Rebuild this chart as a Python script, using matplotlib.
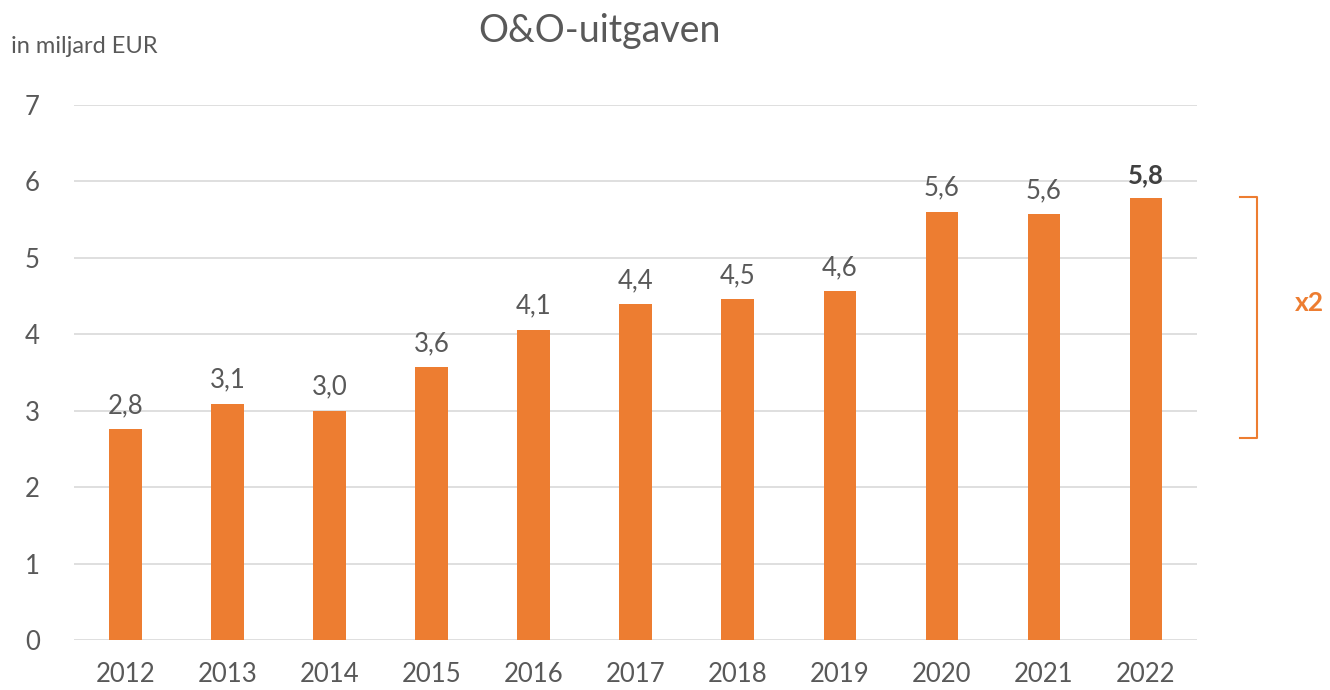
import matplotlib
matplotlib.use('Agg')
import matplotlib.pyplot as plt

# --- Data ---
years = ['2012', '2013', '2014', '2015', '2016', '2017', '2018', '2019', '2020', '2021', '2022']
spending = [2.76, 3.09, 3.00, 3.57, 4.06, 4.39, 4.46, 4.56, 5.60, 5.57, 5.78]
y_ticks = [0, 1, 2, 3, 4, 5, 6, 7]
bracket_range = [2.64, 5.79]

ORANGE = '#ED7D31'
GRAY = '#595959'

plt.rcParams['font.family'] = ['Lato', 'DejaVu Sans']

fig = plt.figure(figsize=(13.3, 6.9), dpi=100)
ax = fig.add_axes([0.056, 0.0725, 0.844, 0.7755])

x = list(range(len(years)))
ax.bar(x, spending, width=0.32, color=ORANGE, zorder=3)

for i, v in enumerate(spending):
    label = f"{v:.1f}".replace('.', ',')
    last = i == len(spending) - 1
    ax.annotate(label, (i, v), xytext=(0, 8), textcoords='offset points',
                ha='center', va='bottom', fontsize=18.5,
                color='#404040' if last else GRAY,
                fontweight='bold' if last else 'normal')

ax.set_xlim(-0.5, len(years) - 0.5)
ax.set_ylim(0, 7)
ax.set_yticks(y_ticks)
ax.set_xticks(x)
ax.set_xticklabels(years)
ax.tick_params(axis='both', length=0, labelsize=18.5, labelcolor=GRAY)
ax.tick_params(axis='y', pad=25)
ax.tick_params(axis='x', pad=16)
ax.yaxis.grid(True, color='#D9D9D9', linewidth=1.2, zorder=0)
for s in ax.spines.values():
    s.set_visible(False)

fig.text(0.451, 0.955, 'O&O-uitgaven', ha='center', va='center', fontsize=27, color=GRAY)
fig.text(0.008, 0.933, 'in miljard EUR', ha='left', va='center', fontsize=17, color=GRAY)

# bracket on the right
bx = 10.92
lo, hi = bracket_range
ax.plot([bx, bx + 0.17, bx + 0.17, bx], [hi, hi, lo, lo], color=ORANGE,
        linewidth=1.5, clip_on=False)
ax.text(11.6, 4.41, 'x2', ha='center', va='center', fontsize=19,
        fontweight='bold', color=ORANGE, clip_on=False)

fig.savefig('out.png', dpi=100)
